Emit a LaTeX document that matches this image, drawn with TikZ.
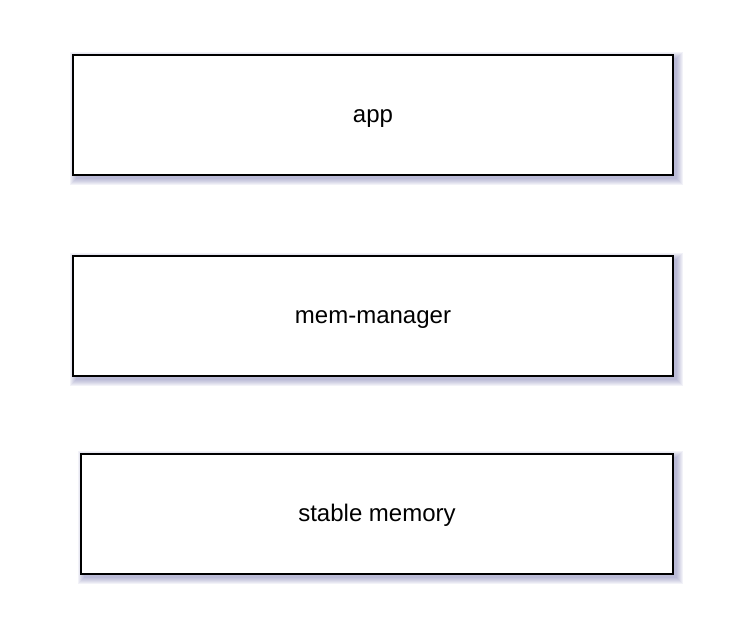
\documentclass[tikz,border=0pt]{standalone}
\usepackage{fontspec}
\setmainfont{Liberation Sans}
\usetikzlibrary{positioning,backgrounds}
\definecolor{shadowblue}{RGB}{110,110,170}

\begin{document}
\begin{tikzpicture}[x=1pt, y=-1pt,
  layer/.style = {draw, line width=1.6pt, fill=white,
                  minimum height=120pt, inner sep=0pt,
                  text height=18pt, text depth=4pt,
                  font=\fontsize{24pt}{29pt}\selectfont}]
  \useasboundingbox (0,0) rectangle (754,618);
  % Set up the layers, top to bottom
  % Application layer
  \node(app)[layer, minimum width = 600pt] at (373, 115) {app};
  % Memory manager layer
  \node[below = 79.5pt of app, minimum height = 121pt] (mgr)[layer, minimum width = 600pt] {mem-manager};
  % Stable memory layer
  \node[below = 76.5pt of mgr, xshift = 4pt] (mem)[layer, minimum width = 592pt] {stable memory};

  % Soft shadows behind the layers
  \begin{pgfonlayer}{background}
    \foreach \n in {app, mgr, mem}
      \foreach \r in {0,...,6}
        \fill[shadowblue, opacity=0.085]
          ([shift={(4-\r, 4-\r)}]\n.north west) rectangle ([shift={(3+\r, 3+\r)}]\n.south east);
  \end{pgfonlayer}
\end{tikzpicture}
\end{document}
